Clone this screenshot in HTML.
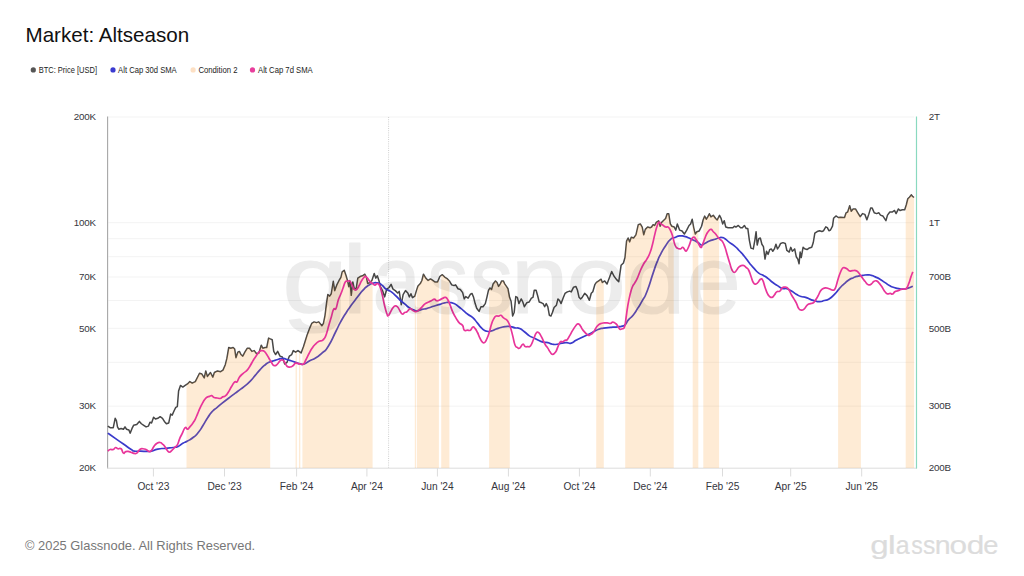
<!DOCTYPE html>
<html><head><meta charset="utf-8"><title>Market: Altseason</title>
<style>
html,body{margin:0;padding:0;background:#fff;}
body{width:1024px;height:576px;overflow:hidden;position:relative;font-family:"Liberation Sans",sans-serif;}
.title{position:absolute;left:25.5px;top:23px;font-size:20.6px;line-height:24px;color:#111;white-space:nowrap;letter-spacing:0px;}
.legend{position:absolute;left:0;top:63px;height:14px;font-size:8.3px;line-height:14px;color:#333;white-space:nowrap;}
.legend span.d{position:absolute;top:4.4px;width:5.2px;height:5.2px;border-radius:50%;}
.legend span.t{position:absolute;top:0;}
.footer{position:absolute;left:25px;top:538px;font-size:12.9px;line-height:16px;color:#777;white-space:nowrap;}
.logo{position:absolute;left:871px;top:528.2px;font-size:27.6px;line-height:34px;color:#dcdcdc;white-space:nowrap;letter-spacing:0.3px;-webkit-text-stroke:0.5px #dcdcdc;}
svg{position:absolute;left:0;top:0;}
svg text{font-family:"Liberation Sans",sans-serif;}
</style></head><body>
<div class="title">Market: Altseason</div>
<div class="legend">




</div>
<svg width="1024" height="576" viewBox="0 0 1024 576">
<circle cx="33.3" cy="69.9" r="2.6" fill="#555"/><circle cx="113" cy="69.9" r="2.6" fill="#3b3bd0"/><circle cx="193.1" cy="69.9" r="2.6" fill="#fde0c4"/><circle cx="252.5" cy="69.9" r="2.6" fill="#e83e9c"/>
<g font-size="8.2" fill="#222"><text x="38.7" y="72.7" textLength="58.3" lengthAdjust="spacingAndGlyphs">BTC: Price [USD]</text><text x="118.1" y="72.7" textLength="58.6" lengthAdjust="spacingAndGlyphs">Alt Cap 30d SMA</text><text x="198.4" y="72.7" textLength="39.1" lengthAdjust="spacingAndGlyphs">Condition 2</text><text x="258" y="72.7" textLength="54.7" lengthAdjust="spacingAndGlyphs">Alt Cap 7d SMA</text></g>
<g stroke="#f3f3f3" stroke-width="1"><line x1="108.3" x2="914.3" y1="406.2" y2="406.2"/><line x1="108.3" x2="914.3" y1="362.3" y2="362.3"/><line x1="108.3" x2="914.3" y1="328.3" y2="328.3"/><line x1="108.3" x2="914.3" y1="300.5" y2="300.5"/><line x1="108.3" x2="914.3" y1="277.0" y2="277.0"/><line x1="108.3" x2="914.3" y1="256.7" y2="256.7"/><line x1="108.3" x2="914.3" y1="238.7" y2="238.7"/><line x1="108.3" x2="914.3" y1="222.7" y2="222.7"/><line x1="108.3" x2="914.3" y1="117.0" y2="117.0"/></g>
<line x1="388.6" x2="388.6" y1="117" y2="468" stroke="#cfcfcf" stroke-width="1" stroke-dasharray="1 1.2"/>
<line x1="107.6" x2="107.6" y1="116.5" y2="468.5" stroke="#a6a6a6" stroke-width="1.1"/>
<line x1="107" x2="917" y1="468.2" y2="468.2" stroke="#dcdcdc" stroke-width="1"/>
<line x1="916.5" x2="916.5" y1="116.5" y2="468.5" stroke="#8ad9bf" stroke-width="1.2"/>
<g stroke="#dcdcdc" stroke-width="1"><line x1="153.4" x2="153.4" y1="468" y2="476.5"/><line x1="224.5" x2="224.5" y1="468" y2="476.5"/><line x1="296.6" x2="296.6" y1="468" y2="476.5"/><line x1="366.9" x2="366.9" y1="468" y2="476.5"/><line x1="437.4" x2="437.4" y1="468" y2="476.5"/><line x1="508.4" x2="508.4" y1="468" y2="476.5"/><line x1="579.4" x2="579.4" y1="468" y2="476.5"/><line x1="650.3" x2="650.3" y1="468" y2="476.5"/><line x1="722.5" x2="722.5" y1="468" y2="476.5"/><line x1="790.7" x2="790.7" y1="468" y2="476.5"/><line x1="861.7" x2="861.7" y1="468" y2="476.5"/></g>
<path d="M107.81,426.09 L110.16,427.66 L113.28,427.66 L115.16,418.28 L116.41,420.62 L117.50,426.88 L118.75,429.22 L121.09,428.44 L123.44,429.22 L125.00,426.88 L126.56,429.22 L128.91,430.00 L130.16,433.12 L132.03,428.44 L133.59,425.31 L136.72,424.53 L139.38,421.41 L141.41,423.75 L143.75,425.31 L146.09,426.88 L148.44,426.09 L150.00,422.19 L151.56,422.97 L153.59,417.19 L155.47,419.06 L157.81,418.28 L160.16,416.72 L162.50,418.28 L164.38,421.41 L166.41,423.75 L168.75,422.97 L170.62,414.06 L172.19,415.16 L174.22,410.47 L175.78,407.34 L177.34,406.56 L178.59,390.94 L180.47,385.47 L182.81,387.03 L185.16,385.47 L187.50,383.91 L189.84,381.56 L192.19,383.12 L195.31,381.56 L199.53,373.28 L201.88,374.06 L204.22,377.97 L205.78,370.94 L207.34,376.41 L210.47,372.50 L212.81,377.19 L214.38,372.50 L217.50,370.94 L220.62,371.72 L222.97,370.16 L225.31,364.69 L226.88,358.44 L228.75,347.50 L230.78,348.28 L233.12,347.50 L234.69,349.06 L235.94,357.66 L237.81,352.19 L239.38,351.41 L240.94,354.53 L242.81,356.09 L244.84,352.19 L247.19,348.28 L249.53,348.28 L251.88,351.41 L254.22,350.62 L256.56,353.75 L258.91,352.97 L261.25,345.16 L262.81,348.28 L265.16,347.50 L266.72,347.50 L268.59,338.12 L270.31,338.91 L272.19,339.69 L273.75,351.41 L275.62,354.53 L277.66,351.41 L280.00,356.09 L282.34,356.88 L284.69,363.91 L287.03,362.34 L289.38,356.09 L291.72,354.53 L293.28,350.62 L295.62,352.19 L297.97,350.62 L301.09,352.97 L303.44,346.72 L307.03,335.16 L309.38,328.91 L311.72,323.44 L314.06,321.88 L316.41,322.66 L318.75,321.88 L321.88,325.78 L323.44,323.44 L325.00,315.62 L326.56,303.12 L327.81,294.53 L329.69,296.09 L331.25,293.75 L333.28,281.25 L334.69,290.62 L336.72,285.16 L339.06,280.47 L340.94,277.34 L342.19,271.88 L344.22,270.31 L346.09,275.78 L347.66,281.25 L348.75,286.72 L350.00,281.25 L351.25,295.31 L352.81,282.03 L354.38,289.06 L356.25,288.28 L357.81,278.12 L360.16,276.56 L362.50,275.78 L364.84,274.22 L366.41,277.34 L367.66,283.59 L369.53,282.81 L371.88,280.47 L374.22,273.44 L375.78,278.12 L377.34,275.78 L378.91,280.47 L380.47,286.72 L382.81,291.41 L384.69,296.88 L386.72,289.06 L389.06,287.50 L391.09,284.38 L392.97,289.06 L395.31,290.62 L397.66,292.97 L399.22,291.41 L401.25,304.69 L403.12,294.53 L405.47,290.62 L407.81,292.97 L409.38,296.88 L410.94,293.75 L412.50,297.66 L414.84,296.09 L416.41,290.62 L417.97,285.94 L420.31,283.59 L421.88,280.47 L423.44,274.22 L425.78,278.12 L428.12,280.47 L430.47,278.91 L432.81,280.47 L435.16,282.03 L437.50,282.03 L439.84,276.56 L440.00,276.25 L442.34,274.69 L444.69,277.03 L447.03,278.59 L449.38,280.94 L451.72,284.84 L454.06,285.62 L455.62,284.84 L457.97,288.75 L460.31,289.53 L462.66,292.66 L464.22,298.91 L465.78,296.56 L468.12,298.12 L470.47,294.22 L472.03,293.44 L473.59,297.34 L475.16,303.59 L476.72,308.28 L479.06,311.41 L480.94,306.72 L482.97,306.72 L485.31,303.59 L486.88,297.34 L488.44,290.31 L490.00,287.97 L491.56,289.53 L493.12,284.06 L495.47,280.94 L497.03,282.50 L498.59,286.41 L500.16,284.06 L501.72,280.94 L503.28,280.94 L504.84,284.06 L506.41,286.41 L507.97,288.75 L509.53,297.34 L511.09,301.25 L512.66,316.09 L514.22,312.19 L515.78,296.56 L517.34,297.34 L518.91,303.59 L521.25,298.91 L522.81,302.03 L524.38,306.72 L526.72,302.81 L529.06,302.03 L531.41,298.12 L532.97,297.34 L534.22,290.31 L536.09,290.31 L537.66,295.78 L539.22,302.03 L541.56,302.81 L543.12,303.59 L544.69,306.72 L546.25,303.59 L547.81,306.72 L549.38,315.31 L550.94,316.09 L552.50,312.19 L554.06,307.50 L556.41,305.16 L557.97,298.91 L559.53,300.47 L561.09,303.59 L563.44,297.34 L565.00,293.44 L567.34,291.88 L569.69,291.09 L571.25,291.88 L573.59,287.19 L575.94,286.41 L577.50,290.31 L579.06,297.34 L580.62,298.91 L582.34,297.19 L584.69,293.28 L587.03,295.62 L589.38,300.31 L591.25,293.28 L592.81,291.72 L594.84,284.69 L596.41,282.34 L598.75,280.78 L601.09,279.22 L602.34,282.50 L604.69,280.94 L607.03,284.06 L609.38,277.81 L611.72,271.56 L614.06,276.25 L616.41,279.38 L618.75,281.72 L621.09,265.31 L623.44,262.97 L625.00,257.50 L626.56,241.09 L628.12,237.97 L629.69,241.88 L631.25,237.19 L633.59,237.97 L635.94,234.84 L638.28,224.69 L640.31,223.91 L642.19,227.03 L643.75,234.84 L645.31,229.38 L647.66,227.03 L650.00,227.81 L651.56,227.03 L653.12,224.69 L654.69,225.47 L656.25,222.34 L658.59,220.78 L660.16,226.25 L661.72,222.34 L664.06,220.00 L665.62,218.44 L667.19,213.75 L668.75,213.75 L670.31,223.91 L671.88,226.25 L674.22,227.03 L675.78,230.16 L677.34,223.91 L679.69,230.16 L682.03,230.94 L684.38,234.06 L686.72,230.16 L689.06,225.47 L690.62,223.91 L692.19,219.22 L693.75,227.81 L695.31,234.06 L696.88,231.72 L699.22,230.94 L701.56,226.25 L703.12,220.00 L704.69,216.09 L706.25,219.22 L707.81,216.88 L709.38,213.75 L710.94,216.88 L713.28,215.31 L715.62,218.44 L717.19,220.00 L719.53,215.31 L721.09,218.44 L722.66,223.91 L724.22,220.78 L725.78,227.03 L728.12,227.81 L730.47,227.81 L732.81,227.81 L734.38,226.25 L735.94,227.03 L738.28,225.47 L740.62,227.81 L742.34,227.81 L744.38,225.47 L746.25,228.59 L747.81,228.59 L749.38,240.31 L750.94,248.12 L753.28,248.91 L754.84,240.31 L756.09,231.72 L757.19,245.00 L758.75,238.75 L760.31,237.97 L761.88,244.22 L763.44,246.56 L765.00,259.06 L766.56,251.25 L768.12,254.38 L769.69,249.69 L771.25,248.91 L772.81,251.25 L774.38,248.91 L775.94,244.22 L777.50,248.91 L779.06,246.56 L780.62,243.44 L782.97,242.66 L785.31,243.44 L786.88,250.47 L789.22,252.03 L790.78,247.34 L792.34,251.25 L794.69,248.91 L796.25,256.72 L797.81,259.06 L799.06,263.75 L800.16,252.03 L801.25,257.50 L803.12,247.19 L804.69,248.75 L807.03,249.53 L809.38,247.97 L811.72,247.19 L813.28,242.50 L814.84,233.12 L817.19,231.56 L819.53,230.78 L821.88,231.56 L823.44,230.78 L825.78,226.88 L827.34,227.66 L828.91,230.78 L830.47,230.00 L832.50,226.09 L833.59,218.28 L835.94,215.94 L838.28,217.50 L840.62,217.19 L842.97,217.50 L844.53,217.50 L846.09,212.81 L847.66,212.03 L849.69,205.78 L851.25,211.25 L853.12,208.91 L855.47,208.91 L857.81,212.81 L860.16,216.72 L862.50,213.59 L864.84,214.38 L866.88,219.84 L868.75,214.38 L870.62,208.12 L872.19,208.12 L874.22,212.81 L876.56,213.59 L878.91,212.81 L880.47,215.16 L882.81,215.94 L885.94,220.62 L887.50,215.16 L889.84,212.03 L892.19,212.03 L894.53,210.47 L896.09,213.59 L898.44,208.91 L900.00,210.47 L902.34,209.69 L904.69,209.69 L906.25,205.00 L907.81,198.75 L909.38,197.19 L911.41,194.84 L912.50,196.41 L914.06,197.50" fill="none" stroke="#474747" stroke-width="1.5" stroke-linejoin="round" stroke-linecap="butt"/>
<path d="M107.81,433.12 C110.41,434.94 110.41,434.94 115.62,438.59 C120.83,442.24 118.23,440.41 123.44,444.06 C128.65,447.71 127.60,447.19 131.25,449.53 C134.90,451.87 131.26,450.57 134.38,451.09 C137.50,451.61 136.45,450.98 140.62,451.09 C144.79,451.20 143.23,451.41 146.88,451.41 C150.53,451.41 147.92,451.87 151.56,451.09 C155.20,450.31 153.12,450.00 157.81,449.06 C162.50,448.12 160.41,448.80 165.62,448.28 C170.83,447.76 169.27,448.12 173.44,447.50 C177.61,446.88 175.00,447.82 178.12,446.41 C181.24,445.00 179.68,445.10 182.81,443.28 C185.94,441.46 183.85,443.02 187.50,440.94 C191.15,438.86 190.10,439.90 193.75,437.03 C197.40,434.16 195.32,436.25 198.44,432.34 C201.56,428.43 200.00,430.26 203.12,425.31 C206.24,420.36 204.68,422.19 207.81,417.50 C210.94,412.81 209.37,414.64 212.50,411.25 C215.63,407.86 214.06,409.94 217.19,407.34 C220.32,404.74 217.09,407.24 221.88,403.44 C226.67,399.64 226.25,400.00 231.56,395.94 C236.87,391.88 233.64,394.38 237.81,391.25 C241.98,388.12 239.89,389.95 244.06,386.56 C248.23,383.17 246.66,384.74 250.31,381.09 C253.96,377.44 251.87,379.26 255.00,375.62 C258.13,371.98 256.56,373.54 259.69,370.16 C262.82,366.78 261.26,368.08 264.38,365.47 C267.50,362.86 265.94,363.90 269.06,362.34 C272.18,360.78 270.62,361.82 273.75,360.78 C276.88,359.74 275.58,360.00 278.44,359.22 C281.30,358.44 279.74,358.44 282.34,358.44 C284.94,358.44 283.38,358.44 286.25,359.22 C289.12,360.00 287.82,359.74 290.94,360.78 C294.06,361.82 292.50,361.30 295.62,362.34 C298.74,363.38 297.44,363.39 300.31,363.91 C303.18,364.43 301.09,364.95 304.22,363.91 C307.35,362.87 305.78,362.86 309.69,360.78 C313.60,358.70 311.77,360.26 315.94,357.66 C320.11,355.06 318.02,356.88 322.19,352.97 C326.36,349.06 323.86,353.18 328.44,345.94 C333.02,338.70 331.88,339.27 335.94,331.25 C340.00,323.23 337.50,327.61 340.62,321.88 C343.74,316.15 342.18,319.01 345.31,314.06 C348.44,309.11 346.87,311.46 350.00,307.03 C353.13,302.60 351.56,304.95 354.69,300.78 C357.82,296.61 356.26,298.44 359.38,294.53 C362.50,290.62 360.94,292.18 364.06,289.06 C367.18,285.94 365.62,287.14 368.75,285.16 C371.88,283.18 370.84,283.90 373.44,283.12 C376.04,282.34 374.48,282.65 376.56,282.81 C378.64,282.97 377.61,282.55 379.69,283.59 C381.77,284.63 380.73,284.12 382.81,285.94 C384.89,287.76 383.34,287.24 385.94,289.06 C388.54,290.88 387.50,289.33 390.62,291.41 C393.74,293.49 392.18,292.45 395.31,295.31 C398.44,298.17 396.87,297.13 400.00,300.00 C403.13,302.87 401.56,301.31 404.69,303.91 C407.82,306.51 406.26,305.73 409.38,307.81 C412.50,309.89 411.46,309.12 414.06,310.16 C416.66,311.20 414.58,311.20 417.19,310.94 C419.80,310.68 418.76,310.16 421.88,309.38 C425.00,308.60 423.44,309.37 426.56,308.59 C429.68,307.81 428.12,308.07 431.25,307.03 C434.38,305.99 433.02,306.35 435.94,305.47 C438.86,304.59 437.08,305.27 440.00,304.38 C442.92,303.49 441.56,303.44 444.69,302.81 C447.82,302.18 446.26,302.24 449.38,302.50 C452.50,302.76 450.94,302.18 454.06,303.59 C457.18,305.00 455.62,304.38 458.75,306.72 C461.88,309.06 460.32,308.02 463.44,310.62 C466.56,313.22 465.00,312.18 468.12,314.53 C471.24,316.88 469.68,314.80 472.81,317.66 C475.94,320.52 474.37,319.48 477.50,323.12 C480.63,326.76 479.06,325.88 482.19,328.59 C485.32,331.30 483.76,330.47 486.88,331.25 C490.00,332.03 488.44,331.67 491.56,330.94 C494.68,330.21 493.12,330.21 496.25,329.06 C499.38,327.91 497.82,328.33 500.94,327.50 C504.06,326.67 502.50,326.87 505.62,326.56 C508.74,326.25 507.18,326.14 510.31,326.56 C513.44,326.98 511.87,327.13 515.00,327.81 C518.13,328.49 516.56,327.29 519.69,328.59 C522.82,329.89 521.26,329.38 524.38,331.72 C527.50,334.06 525.94,333.54 529.06,335.62 C532.18,337.70 530.62,336.41 533.75,337.97 C536.88,339.53 535.32,338.90 538.44,340.31 C541.56,341.72 540.00,341.41 543.12,342.19 C546.24,342.97 544.68,341.98 547.81,342.66 C550.94,343.34 549.37,343.70 552.50,344.22 C555.63,344.74 554.06,344.59 557.19,344.22 C560.32,343.85 558.76,343.64 561.88,343.12 C565.00,342.60 563.44,342.66 566.56,342.66 C569.68,342.66 568.12,343.90 571.25,343.12 C574.38,342.34 572.82,342.03 575.94,340.31 C579.06,338.59 576.14,340.10 580.62,337.97 C585.10,335.84 584.90,336.05 589.38,333.91 C593.86,331.77 590.94,333.12 594.06,331.56 C597.18,330.00 595.62,330.37 598.75,329.22 C601.88,328.07 600.32,328.64 603.44,328.12 C606.56,327.60 605.00,327.97 608.12,327.66 C611.24,327.35 609.68,327.45 612.81,327.19 C615.94,326.93 614.37,327.25 617.50,326.88 C620.63,326.51 619.59,326.87 622.19,326.09 C624.79,325.31 623.23,326.61 625.31,324.53 C627.39,322.45 625.84,322.96 628.44,319.84 C631.04,316.72 630.00,319.07 633.12,315.16 C636.24,311.25 634.68,313.07 637.81,308.12 C640.94,303.17 639.37,306.04 642.50,300.31 C645.63,294.58 643.65,300.00 647.19,290.94 C650.73,281.88 649.84,282.70 653.12,273.12 C656.40,263.54 654.42,268.70 657.03,262.19 C659.64,255.68 658.08,259.06 660.94,253.59 C663.80,248.12 662.50,250.47 665.62,245.78 C668.74,241.09 667.18,242.29 670.31,239.53 C673.44,236.77 671.87,238.70 675.00,237.50 C678.13,236.30 676.56,236.30 679.69,235.94 C682.82,235.58 681.26,235.73 684.38,236.41 C687.50,237.09 685.94,236.67 689.06,237.97 C692.18,239.27 690.62,238.75 693.75,240.31 C696.88,241.87 695.84,241.10 698.44,242.66 C701.04,244.22 699.48,244.74 701.56,245.00 C703.64,245.26 702.08,244.74 704.69,243.44 C707.30,242.14 706.26,242.39 709.38,241.09 C712.50,239.79 710.94,240.57 714.06,239.53 C717.18,238.49 716.14,238.65 718.75,237.97 C721.36,237.29 719.80,237.24 721.88,237.50 C723.96,237.76 722.40,237.03 725.00,238.75 C727.60,240.47 726.56,240.32 729.69,242.66 C732.82,245.00 731.26,243.18 734.38,245.78 C737.50,248.38 735.62,246.82 739.06,250.47 C742.50,254.12 741.25,252.55 744.69,256.72 C748.13,260.89 746.26,259.06 749.38,262.97 C752.50,266.88 750.94,265.06 754.06,268.44 C757.18,271.82 755.62,270.78 758.75,273.12 C761.88,275.46 760.32,273.65 763.44,275.47 C766.56,277.29 765.00,276.25 768.12,278.59 C771.24,280.93 769.68,280.16 772.81,282.50 C775.94,284.84 774.37,283.64 777.50,285.62 C780.63,287.60 779.06,287.40 782.19,288.44 C785.32,289.48 783.76,287.87 786.88,288.75 C790.00,289.63 788.44,289.27 791.56,291.09 C794.68,292.91 793.12,292.40 796.25,294.22 C799.38,296.04 797.82,295.52 800.94,296.56 C804.06,297.60 802.50,296.40 805.62,297.34 C808.74,298.28 807.18,298.18 810.31,299.38 C813.44,300.58 811.87,300.21 815.00,300.94 C818.13,301.67 816.56,301.72 819.69,301.56 C822.82,301.40 821.26,301.35 824.38,300.47 C827.50,299.59 825.62,301.05 829.06,298.91 C832.50,296.77 831.25,297.50 834.69,294.06 C838.13,290.62 836.26,291.97 839.38,288.59 C842.50,285.21 840.94,286.77 844.06,283.91 C847.18,281.05 845.62,282.08 848.75,280.00 C851.88,277.92 850.32,278.96 853.44,277.66 C856.56,276.36 855.00,276.87 858.12,276.09 C861.24,275.31 859.68,275.73 862.81,275.31 C865.94,274.89 864.63,274.84 867.50,274.84 C870.37,274.84 868.81,274.63 871.41,275.31 C874.01,275.99 872.45,275.58 875.31,276.88 C878.17,278.18 876.87,277.40 880.00,279.22 C883.13,281.04 881.56,280.26 884.69,282.34 C887.82,284.42 886.26,283.75 889.38,285.47 C892.50,287.19 890.94,286.46 894.06,287.50 C897.18,288.54 895.62,288.07 898.75,288.59 C901.88,289.11 900.32,289.22 903.44,289.06 C906.56,288.90 905.00,289.06 908.12,288.12 C911.24,287.18 911.25,286.87 912.81,286.25" fill="none" stroke="#3a3acb" stroke-width="1.7" stroke-linejoin="round" stroke-linecap="butt"/>
<path d="M186.50,468 L186.50,384.58 L187.50,383.91 L189.84,381.56 L192.19,383.12 L195.31,381.56 L199.53,373.28 L201.88,374.06 L204.22,377.97 L205.78,370.94 L207.34,376.41 L210.47,372.50 L212.81,377.19 L214.38,372.50 L217.50,370.94 L220.62,371.72 L222.97,370.16 L225.31,364.69 L226.88,358.44 L228.75,347.50 L230.78,348.28 L233.12,347.50 L234.69,349.06 L235.94,357.66 L237.81,352.19 L239.38,351.41 L240.94,354.53 L242.81,356.09 L244.84,352.19 L247.19,348.28 L249.53,348.28 L251.88,351.41 L254.22,350.62 L256.56,353.75 L258.91,352.97 L261.25,345.16 L262.81,348.28 L265.16,347.50 L266.72,347.50 L268.59,338.12 L270.20,338.86 L270.20,468 Z M295.60,468 L295.60,352.18 L295.62,352.19 L296.90,351.33 L296.90,468 Z M299.00,468 L299.00,351.40 L300.30,352.37 L300.30,468 Z M302.40,468 L302.40,349.49 L303.44,346.72 L307.03,335.16 L309.38,328.91 L311.72,323.44 L314.06,321.88 L316.41,322.66 L318.75,321.88 L321.88,325.78 L323.44,323.44 L325.00,315.62 L326.56,303.12 L327.81,294.53 L329.69,296.09 L331.25,293.75 L333.28,281.25 L334.69,290.62 L336.72,285.16 L339.06,280.47 L340.94,277.34 L342.19,271.88 L344.22,270.31 L346.09,275.78 L347.66,281.25 L348.75,286.72 L350.00,281.25 L351.25,295.31 L352.81,282.03 L354.38,289.06 L356.25,288.28 L357.81,278.12 L360.16,276.56 L362.50,275.78 L364.84,274.22 L366.41,277.34 L367.66,283.59 L369.53,282.81 L371.88,280.47 L372.60,278.31 L372.60,468 Z M414.80,468 L414.80,296.12 L414.84,296.09 L416.00,292.05 L416.00,468 Z M416.80,468 L416.80,289.45 L417.97,285.94 L420.31,283.59 L421.88,280.47 L423.44,274.22 L425.78,278.12 L428.12,280.47 L430.47,278.91 L432.81,280.47 L435.16,282.03 L437.50,282.03 L438.90,278.76 L438.90,468 Z M441.20,468 L441.20,275.45 L442.34,274.69 L444.69,277.03 L447.03,278.59 L449.38,280.94 L449.40,280.97 L449.40,468 Z M489.10,468 L489.10,289.32 L490.00,287.97 L491.56,289.53 L493.12,284.06 L495.47,280.94 L497.03,282.50 L498.59,286.41 L500.16,284.06 L501.72,280.94 L503.28,280.94 L504.84,284.06 L506.41,286.41 L507.97,288.75 L509.53,297.34 L509.80,298.02 L509.80,468 Z M596.20,468 L596.20,282.65 L596.41,282.34 L598.75,280.78 L601.09,279.22 L602.34,282.50 L603.80,281.53 L603.80,468 Z M625.20,468 L625.20,255.40 L626.56,241.09 L628.12,237.97 L629.69,241.88 L631.25,237.19 L633.59,237.97 L635.94,234.84 L638.28,224.69 L640.31,223.91 L642.19,227.03 L643.75,234.84 L645.31,229.38 L647.66,227.03 L650.00,227.81 L651.56,227.03 L653.12,224.69 L654.69,225.47 L656.25,222.34 L658.59,220.78 L660.16,226.25 L661.72,222.34 L664.06,220.00 L665.62,218.44 L667.19,213.75 L668.75,213.75 L670.31,223.91 L671.88,226.25 L673.70,226.86 L673.70,468 Z M692.70,468 L692.70,222.03 L693.75,227.81 L695.31,234.06 L696.88,231.72 L698.30,231.25 L698.30,468 Z M703.30,468 L703.30,219.55 L704.69,216.09 L706.25,219.22 L707.81,216.88 L709.38,213.75 L710.94,216.88 L713.28,215.31 L715.62,218.44 L717.19,220.00 L719.10,216.17 L719.10,468 Z M838.10,468 L838.10,217.38 L838.28,217.50 L840.62,217.19 L842.97,217.50 L844.53,217.50 L846.09,212.81 L847.66,212.03 L849.69,205.78 L851.25,211.25 L853.12,208.91 L855.47,208.91 L857.81,212.81 L860.16,216.72 L860.90,215.73 L860.90,468 Z M905.70,468 L905.70,206.65 L906.25,205.00 L907.81,198.75 L909.38,197.19 L911.41,194.84 L912.50,196.41 L914.06,197.50 L914.10,197.50 L914.10,468 Z" fill="rgba(247,147,26,0.185)" stroke="none"/>
<path d="M107.81,451.09 C108.44,450.67 108.70,449.95 110.16,449.53 C111.62,449.11 111.82,450.07 113.28,449.53 C114.74,448.99 114.37,447.71 115.62,447.50 C116.87,447.29 116.51,448.42 117.97,448.75 C119.43,449.08 119.63,447.58 121.09,448.75 C122.55,449.92 122.19,452.37 123.44,453.12 C124.69,453.87 124.32,451.98 125.78,451.56 C127.24,451.14 127.24,451.27 128.91,451.56 C130.58,451.85 130.57,452.16 132.03,452.66 C133.49,453.16 133.13,453.32 134.38,453.44 C135.63,453.56 135.26,454.16 136.72,453.12 C138.18,452.08 138.17,450.70 139.84,449.53 C141.51,448.36 141.30,448.75 142.97,448.75 C144.64,448.75 144.42,448.78 146.09,449.53 C147.76,450.28 147.76,451.35 149.22,451.56 C150.68,451.77 150.31,451.68 151.56,450.31 C152.81,448.94 152.45,448.28 153.91,446.41 C155.37,444.54 155.36,444.32 157.03,443.28 C158.70,442.24 158.70,442.29 160.16,442.50 C161.62,442.71 161.25,443.02 162.50,444.06 C163.75,445.10 163.59,444.74 164.84,446.41 C166.09,448.08 165.94,448.77 167.19,450.31 C168.44,451.85 168.28,452.19 169.53,452.19 C170.78,452.19 170.42,451.64 171.88,450.31 C173.34,448.98 173.54,448.65 175.00,447.19 C176.46,445.73 176.09,447.13 177.34,444.84 C178.59,442.55 178.44,441.50 179.69,438.59 C180.94,435.68 180.57,436.82 182.03,433.91 C183.49,431.00 183.70,428.91 185.16,427.66 C186.62,426.41 186.25,429.43 187.50,429.22 C188.75,429.01 188.38,428.55 189.84,426.88 C191.30,425.21 191.51,425.06 192.97,422.97 C194.43,420.88 194.06,421.56 195.31,419.06 C196.56,416.56 196.41,416.51 197.66,413.59 C198.91,410.67 198.75,410.83 200.00,408.12 C201.25,405.41 201.09,405.73 202.34,403.44 C203.59,401.15 203.44,401.20 204.69,399.53 C205.94,397.86 205.78,398.02 207.03,397.19 C208.28,396.36 208.13,396.83 209.38,396.41 C210.63,395.99 210.47,395.33 211.72,395.62 C212.97,395.91 212.60,396.87 214.06,397.50 C215.52,398.13 215.52,397.72 217.19,397.97 C218.86,398.22 218.85,398.73 220.31,398.44 C221.77,398.15 221.33,397.55 222.66,396.88 C223.99,396.21 223.77,397.23 225.31,395.94 C226.85,394.65 226.77,394.53 228.44,392.03 C230.11,389.53 229.89,389.27 231.56,386.56 C233.23,383.85 233.23,383.13 234.69,381.88 C236.15,380.63 235.78,383.13 237.03,381.88 C238.28,380.63 237.71,379.48 239.38,377.19 C241.05,374.90 241.20,375.15 243.28,373.28 C245.36,371.41 245.32,372.24 247.19,370.16 C249.06,368.08 248.64,368.18 250.31,365.47 C251.98,362.76 251.77,362.71 253.44,360.00 C255.11,357.29 254.89,357.60 256.56,355.31 C258.23,353.02 258.23,352.66 259.69,351.41 C261.15,350.16 260.78,350.62 262.03,350.62 C263.28,350.62 263.13,350.37 264.38,351.41 C265.63,352.45 265.47,352.66 266.72,354.53 C267.97,356.40 267.81,356.36 269.06,358.44 C270.31,360.52 270.16,360.47 271.41,362.34 C272.66,364.21 272.29,364.84 273.75,365.47 C275.21,366.10 275.21,365.94 276.88,364.69 C278.55,363.44 278.54,362.03 280.00,360.78 C281.46,359.53 281.09,359.58 282.34,360.00 C283.59,360.42 283.44,360.67 284.69,362.34 C285.94,364.01 285.57,365.00 287.03,366.25 C288.49,367.50 288.49,367.24 290.16,367.03 C291.83,366.82 291.82,366.51 293.28,365.47 C294.74,364.43 293.95,363.54 295.62,363.12 C297.29,362.70 297.44,363.70 299.53,363.91 C301.62,364.12 301.77,364.95 303.44,363.91 C305.11,362.87 304.32,362.71 305.78,360.00 C307.24,357.29 307.24,356.88 308.91,353.75 C310.58,350.62 310.36,350.78 312.03,348.28 C313.70,345.78 313.29,346.25 315.16,344.38 C317.03,342.51 317.19,342.29 319.06,341.25 C320.93,340.21 320.73,341.30 322.19,340.47 C323.65,339.64 323.36,339.95 324.53,338.12 C325.70,336.29 325.39,337.09 326.56,333.59 C327.73,330.09 327.66,329.37 328.91,325.00 C330.16,320.63 330.00,321.36 331.25,317.19 C332.50,313.02 332.34,311.67 333.59,309.38 C334.84,307.09 334.69,311.09 335.94,308.59 C337.19,306.09 337.03,303.75 338.28,300.00 C339.53,296.25 339.37,297.66 340.62,294.53 C341.87,291.40 341.72,291.61 342.97,288.28 C344.22,284.95 344.06,283.90 345.31,282.03 C346.56,280.16 346.41,281.46 347.66,281.25 C348.91,281.04 348.75,280.00 350.00,281.25 C351.25,282.50 351.09,283.65 352.34,285.94 C353.59,288.23 353.44,289.01 354.69,289.84 C355.94,290.67 355.78,290.31 357.03,289.06 C358.28,287.81 358.13,287.45 359.38,285.16 C360.63,282.87 360.47,282.56 361.72,280.47 C362.97,278.38 363.02,278.38 364.06,277.34 C365.10,276.30 364.58,276.14 365.62,276.56 C366.66,276.98 366.72,277.45 367.97,278.91 C369.22,280.37 369.06,280.78 370.31,282.03 C371.56,283.28 371.41,282.76 372.66,283.59 C373.91,284.42 373.75,285.16 375.00,285.16 C376.25,285.16 376.09,283.38 377.34,283.59 C378.59,283.80 378.44,283.23 379.69,285.94 C380.94,288.65 380.78,288.75 382.03,293.75 C383.28,298.75 383.13,299.48 384.38,304.69 C385.63,309.90 385.68,310.37 386.72,313.28 C387.76,316.19 387.24,316.04 388.28,315.62 C389.32,315.20 389.37,313.80 390.62,311.72 C391.87,309.64 391.72,309.35 392.97,307.81 C394.22,306.27 394.06,306.15 395.31,305.94 C396.56,305.73 396.41,305.70 397.66,307.03 C398.91,308.36 398.75,309.07 400.00,310.94 C401.25,312.81 401.09,313.64 402.34,314.06 C403.59,314.48 403.44,313.12 404.69,312.50 C405.94,311.88 405.57,312.76 407.03,311.72 C408.49,310.68 408.70,309.01 410.16,308.59 C411.62,308.17 411.04,309.33 412.50,310.16 C413.96,310.99 413.95,311.72 415.62,311.72 C417.29,311.72 417.08,311.41 418.75,310.16 C420.42,308.91 420.21,308.70 421.88,307.03 C423.55,305.36 423.34,305.16 425.00,303.91 C426.66,302.66 426.45,303.17 428.12,302.34 C429.79,301.51 429.58,301.61 431.25,300.78 C432.92,299.95 432.92,299.22 434.38,299.22 C435.84,299.22 435.26,300.57 436.72,300.78 C438.18,300.99 438.97,300.29 439.84,300.00 C440.71,299.71 439.13,300.19 440.00,299.69 C440.87,299.19 441.66,298.75 443.12,298.12 C444.58,297.49 444.22,296.92 445.47,297.34 C446.72,297.76 446.56,297.60 447.81,299.69 C449.06,301.78 448.91,302.03 450.16,305.16 C451.41,308.29 451.25,308.50 452.50,311.41 C453.75,314.32 453.59,313.80 454.84,316.09 C456.09,318.38 455.94,318.13 457.19,320.00 C458.44,321.87 458.07,321.66 459.53,323.12 C460.99,324.58 461.41,323.59 462.66,325.47 C463.91,327.35 462.97,328.91 464.22,330.16 C465.47,331.41 465.67,330.16 467.34,330.16 C469.01,330.16 469.01,330.99 470.47,330.16 C471.93,329.33 471.56,327.45 472.81,327.03 C474.06,326.61 473.91,327.13 475.16,328.59 C476.41,330.05 476.25,330.00 477.50,332.50 C478.75,335.00 478.59,335.47 479.84,337.97 C481.09,340.47 480.94,340.63 482.19,341.88 C483.44,343.13 483.28,343.49 484.53,342.66 C485.78,341.83 485.63,341.46 486.88,338.75 C488.13,336.04 487.97,336.46 489.22,332.50 C490.47,328.54 490.31,327.66 491.56,323.91 C492.81,320.16 492.66,320.53 493.91,318.44 C495.16,316.35 495.00,316.72 496.25,316.09 C497.50,315.46 497.34,316.30 498.59,316.09 C499.84,315.88 499.69,314.89 500.94,315.31 C502.19,315.73 502.03,316.62 503.28,317.66 C504.53,318.70 504.37,318.18 505.62,319.22 C506.87,320.26 506.72,319.48 507.97,321.56 C509.22,323.64 509.06,323.28 510.31,327.03 C511.56,330.78 511.41,330.83 512.66,335.62 C513.91,340.41 513.75,341.87 515.00,345.00 C516.25,348.13 516.09,346.51 517.34,347.34 C518.59,348.17 518.23,348.95 519.69,348.12 C521.15,347.29 521.35,344.64 522.81,344.22 C524.27,343.80 523.91,345.94 525.16,346.56 C526.41,347.18 526.04,346.77 527.50,346.56 C528.96,346.35 528.95,347.86 530.62,345.78 C532.29,343.70 532.29,342.08 533.75,338.75 C535.21,335.42 534.84,334.95 536.09,333.28 C537.34,331.61 537.19,331.88 538.44,332.50 C539.69,333.12 539.53,333.54 540.78,335.62 C542.03,337.70 541.87,337.81 543.12,340.31 C544.37,342.81 544.22,342.92 545.47,345.00 C546.72,347.08 546.56,346.25 547.81,348.12 C549.06,349.99 548.91,350.36 550.16,352.03 C551.41,353.70 551.04,354.38 552.50,354.38 C553.96,354.38 554.16,354.12 555.62,352.03 C557.08,349.94 556.72,349.27 557.97,346.56 C559.22,343.85 559.06,343.13 560.31,341.88 C561.56,340.63 561.41,342.30 562.66,341.88 C563.91,341.46 563.75,340.94 565.00,340.31 C566.25,339.68 566.09,340.78 567.34,339.53 C568.59,338.28 568.23,338.12 569.69,335.62 C571.15,333.12 571.14,332.87 572.81,330.16 C574.48,327.45 574.48,327.14 575.94,325.47 C577.40,323.80 577.03,323.70 578.28,323.91 C579.53,324.12 579.37,324.58 580.62,326.25 C581.87,327.92 581.05,327.83 582.97,330.16 C584.89,332.49 585.89,333.79 587.81,335.00 C589.73,336.21 588.70,335.40 590.16,334.69 C591.62,333.98 591.82,334.01 593.28,332.34 C594.74,330.67 594.37,330.31 595.62,328.44 C596.87,326.57 596.51,326.64 597.97,325.31 C599.43,323.98 599.42,324.06 601.09,323.44 C602.76,322.82 602.55,323.10 604.22,322.97 C605.89,322.84 605.67,322.84 607.34,322.97 C609.01,323.10 609.01,323.65 610.47,323.44 C611.93,323.23 611.35,322.11 612.81,322.19 C614.27,322.27 614.48,322.50 615.94,323.75 C617.40,325.00 617.24,325.42 618.28,326.88 C619.32,328.34 618.80,328.72 619.84,329.22 C620.88,329.72 620.94,329.37 622.19,328.75 C623.44,328.13 623.49,329.88 624.53,326.88 C625.57,323.88 625.26,322.92 626.09,317.50 C626.92,312.08 626.62,312.60 627.66,306.56 C628.70,300.52 628.75,300.05 630.00,294.84 C631.25,289.63 631.09,290.16 632.34,287.03 C633.59,283.90 633.31,285.58 634.69,283.12 C636.07,280.66 635.92,281.31 637.50,277.81 C639.08,274.31 638.95,273.75 640.62,270.00 C642.29,266.25 642.08,266.67 643.75,263.75 C645.42,260.83 645.21,261.98 646.88,259.06 C648.55,256.14 648.54,256.56 650.00,252.81 C651.46,249.06 651.09,249.79 652.34,245.00 C653.59,240.21 653.44,239.84 654.69,234.84 C655.94,229.84 655.86,229.58 657.03,226.25 C658.20,222.92 658.02,222.96 659.06,222.34 C660.10,221.72 659.81,223.08 660.94,223.91 C662.07,224.74 662.03,224.64 663.28,225.47 C664.53,226.30 664.37,226.61 665.62,227.03 C666.87,227.45 666.72,226.20 667.97,227.03 C669.22,227.86 669.06,227.66 670.31,230.16 C671.56,232.66 671.41,232.45 672.66,236.41 C673.91,240.37 673.75,241.88 675.00,245.00 C676.25,248.12 675.88,247.08 677.34,248.12 C678.80,249.16 679.01,249.12 680.47,248.91 C681.93,248.70 681.56,246.92 682.81,247.34 C684.06,247.76 684.12,249.64 685.16,250.47 C686.20,251.30 685.68,251.72 686.72,250.47 C687.76,249.22 687.81,248.70 689.06,245.78 C690.31,242.86 690.16,241.82 691.41,239.53 C692.66,237.24 692.50,237.19 693.75,237.19 C695.00,237.19 694.84,237.86 696.09,239.53 C697.34,241.20 697.19,241.36 698.44,243.44 C699.69,245.52 699.74,246.92 700.78,247.34 C701.82,247.76 701.30,247.29 702.34,245.00 C703.38,242.71 703.44,241.88 704.69,238.75 C705.94,235.62 705.78,235.57 707.03,233.28 C708.28,230.99 708.25,231.20 709.38,230.16 C710.51,229.12 710.21,228.96 711.25,229.38 C712.29,229.80 712.11,230.47 713.28,231.72 C714.45,232.97 714.37,232.60 715.62,234.06 C716.87,235.52 716.72,235.73 717.97,237.19 C719.22,238.65 719.06,238.28 720.31,239.53 C721.56,240.78 721.41,239.80 722.66,241.88 C723.91,243.96 723.75,243.80 725.00,247.34 C726.25,250.88 726.09,250.99 727.34,255.16 C728.59,259.33 728.44,259.01 729.69,262.97 C730.94,266.93 730.78,267.50 732.03,270.00 C733.28,272.50 733.13,272.34 734.38,272.34 C735.63,272.34 735.47,271.46 736.72,270.00 C737.97,268.54 737.35,268.13 739.06,266.88 C740.77,265.63 741.20,265.10 743.12,265.31 C745.04,265.52 744.79,266.41 746.25,267.66 C747.71,268.91 747.34,267.71 748.59,270.00 C749.84,272.29 749.69,272.92 750.94,276.25 C752.19,279.58 752.03,280.42 753.28,282.50 C754.53,284.58 754.37,284.06 755.62,284.06 C756.87,284.06 756.72,283.75 757.97,282.50 C759.22,281.25 759.06,280.00 760.31,279.38 C761.56,278.76 761.41,278.08 762.66,280.16 C763.91,282.24 763.75,283.65 765.00,287.19 C766.25,290.73 766.09,290.94 767.34,293.44 C768.59,295.94 768.44,295.52 769.69,296.56 C770.94,297.60 770.78,297.76 772.03,297.34 C773.28,296.92 773.13,296.46 774.38,295.00 C775.63,293.54 775.26,292.92 776.72,291.88 C778.18,290.84 778.38,292.13 779.84,291.09 C781.30,290.05 780.94,289.01 782.19,287.97 C783.44,286.93 783.28,287.32 784.53,287.19 C785.78,287.06 785.63,286.67 786.88,287.50 C788.13,288.33 787.97,288.31 789.22,290.31 C790.47,292.31 790.31,292.71 791.56,295.00 C792.81,297.29 792.66,296.83 793.91,298.91 C795.16,300.99 795.00,300.31 796.25,302.81 C797.50,305.31 797.34,306.36 798.59,308.28 C799.84,310.20 799.48,309.79 800.94,310.00 C802.40,310.21 802.39,310.35 804.06,309.06 C805.73,307.77 805.52,306.62 807.19,305.16 C808.86,303.70 808.64,304.22 810.31,303.59 C811.98,302.96 811.98,303.85 813.44,302.81 C814.90,301.77 814.53,301.56 815.78,299.69 C817.03,297.82 816.87,298.07 818.12,295.78 C819.37,293.49 819.22,292.96 820.47,291.09 C821.72,289.22 821.35,289.58 822.81,288.75 C824.27,287.92 824.27,287.97 825.94,287.97 C827.61,287.97 827.15,288.17 829.06,288.75 C830.97,289.33 831.41,290.41 833.12,290.16 C834.83,289.91 834.22,290.52 835.47,287.81 C836.72,285.10 836.56,283.96 837.81,280.00 C839.06,276.04 838.91,276.10 840.16,272.97 C841.41,269.84 841.25,269.66 842.50,268.28 C843.75,266.90 843.59,267.60 844.84,267.81 C846.09,268.02 845.94,268.23 847.19,269.06 C848.44,269.89 848.07,270.52 849.53,270.94 C850.99,271.36 850.99,270.71 852.66,270.62 C854.33,270.53 854.32,270.20 855.78,270.62 C857.24,271.04 856.87,270.94 858.12,272.19 C859.37,273.44 859.22,273.64 860.47,275.31 C861.72,276.98 861.56,276.77 862.81,278.44 C864.06,280.11 863.70,279.89 865.16,281.56 C866.62,283.23 866.61,284.06 868.28,284.69 C869.95,285.32 869.95,284.74 871.41,283.91 C872.87,283.08 872.50,282.39 873.75,281.56 C875.00,280.73 874.84,280.57 876.09,280.78 C877.34,280.99 876.98,280.88 878.44,282.34 C879.90,283.80 880.10,284.16 881.56,286.25 C883.02,288.34 882.45,288.16 883.91,290.16 C885.37,292.16 885.36,292.92 887.03,293.75 C888.70,294.58 888.70,293.20 890.16,293.28 C891.62,293.36 891.25,294.48 892.50,294.06 C893.75,293.64 893.59,292.55 894.84,291.72 C896.09,290.89 895.94,291.36 897.19,290.94 C898.44,290.52 898.28,290.66 899.53,290.16 C900.78,289.66 900.63,289.35 901.88,289.06 C903.13,288.77 902.97,289.31 904.22,289.06 C905.47,288.81 905.31,289.70 906.56,288.12 C907.81,286.54 907.74,286.12 908.91,283.12 C910.08,280.12 909.90,279.88 910.94,276.88 C911.98,273.88 912.31,273.21 912.81,271.88" fill="none" stroke="#e8359a" stroke-width="1.7" stroke-linejoin="round" stroke-linecap="butt"/>
<g font-size="9.8" fill="#36363d" letter-spacing="-0.2"><text x="95.8" y="120.2" text-anchor="end">200K</text><text x="928.8" y="120.2">2T</text><text x="95.8" y="225.9" text-anchor="end">100K</text><text x="928.8" y="225.9">1T</text><text x="95.8" y="280.2" text-anchor="end">70K</text><text x="928.8" y="280.2">700B</text><text x="95.8" y="331.5" text-anchor="end">50K</text><text x="928.8" y="331.5">500B</text><text x="95.8" y="409.4" text-anchor="end">30K</text><text x="928.8" y="409.4">300B</text><text x="95.8" y="471.2" text-anchor="end">20K</text><text x="928.8" y="471.2">200B</text></g>
<g font-size="10.2" fill="#36363d"><text x="153.4" y="489.6" text-anchor="middle">Oct '23</text><text x="224.5" y="489.6" text-anchor="middle">Dec '23</text><text x="296.6" y="489.6" text-anchor="middle">Feb '24</text><text x="366.9" y="489.6" text-anchor="middle">Apr '24</text><text x="437.4" y="489.6" text-anchor="middle">Jun '24</text><text x="508.4" y="489.6" text-anchor="middle">Aug '24</text><text x="579.4" y="489.6" text-anchor="middle">Oct '24</text><text x="650.3" y="489.6" text-anchor="middle">Dec '24</text><text x="722.5" y="489.6" text-anchor="middle">Feb '25</text><text x="790.7" y="489.6" text-anchor="middle">Apr '25</text><text x="861.7" y="489.6" text-anchor="middle">Jun '25</text></g>
<g opacity="0.07" fill="#000" stroke="#000" stroke-width="1.2" stroke-linejoin="round"><text transform="translate(282.01,312.8) scale(1.2242,1)" font-size="97">g</text><text transform="translate(342.31,312.8) scale(1.1611,1)" font-size="97">l</text><text transform="translate(372.50,312.8) scale(0.8971,1)" font-size="97">a</text><text transform="translate(427.32,312.8) scale(0.8463,1)" font-size="97">s</text><text transform="translate(470.22,312.8) scale(0.8841,1)" font-size="97">s</text><text transform="translate(511.05,312.8) scale(1.0630,1)" font-size="97">n</text><text transform="translate(566.30,312.8) scale(1.1047,1)" font-size="97">o</text><text transform="translate(626.14,312.8) scale(1.0958,1)" font-size="97">d</text><text transform="translate(686.45,312.8) scale(1.0063,1)" font-size="97">e</text></g>
<g fill="#dcdcdc" stroke="#dcdcdc" stroke-width="0.2" stroke-linejoin="round"><text transform="translate(870.21,553.9) scale(1.2598,1)" font-size="26.3">g</text><text transform="translate(887.65,553.9) scale(1.3842,1)" font-size="26.3">l</text><text transform="translate(895.84,553.9) scale(0.9474,1)" font-size="26.3">a</text><text transform="translate(911.36,553.9) scale(0.8719,1)" font-size="26.3">s</text><text transform="translate(922.92,553.9) scale(0.9329,1)" font-size="26.3">s</text><text transform="translate(934.71,553.9) scale(1.0830,1)" font-size="26.3">n</text><text transform="translate(949.57,553.9) scale(1.1998,1)" font-size="26.3">o</text><text transform="translate(966.67,553.9) scale(1.2006,1)" font-size="26.3">d</text><text transform="translate(983.24,553.9) scale(1.0373,1)" font-size="26.3">e</text></g>
</svg>
<div class="footer">© 2025 Glassnode. All Rights Reserved.</div>
</body></html>
